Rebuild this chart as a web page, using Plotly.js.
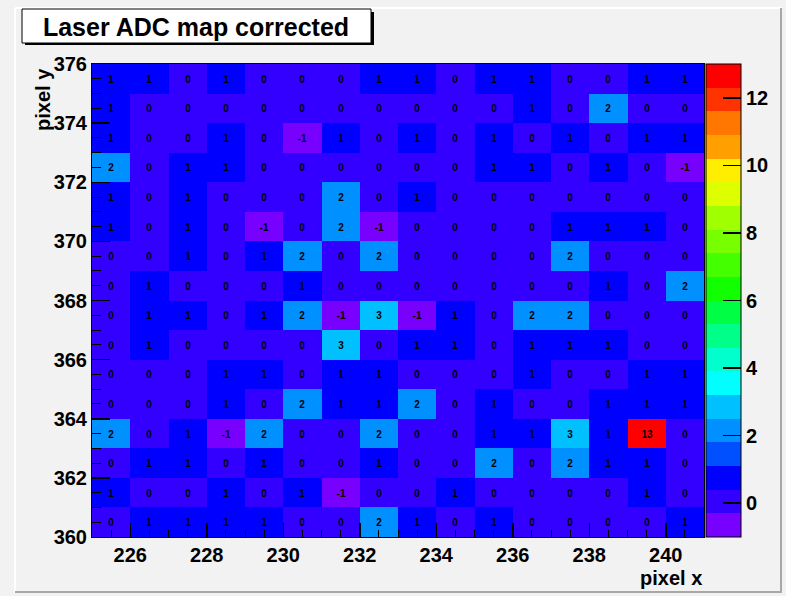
<!DOCTYPE html>
<html>
<head>
<meta charset="utf-8">
<script src="https://cdn.plot.ly/plotly-3.0.1.min.js"></script>
<style>
  html, body { margin: 0; padding: 0; background: #f2f2f2; }
  #chart { width: 786px; height: 596px; }
</style>
</head>
<body>
<div id="chart"></div>
<script>
// Bin edges of the pixel grid
const pixelXEdges = [225, 226, 227, 228, 229, 230, 231, 232, 233, 234, 235, 236, 237, 238, 239, 240, 241];
// Row labels (lower edge of each pixel row), listed from the top row down
const pixelYRows = [375, 374, 373, 372, 371, 370, 369, 368, 367, 366, 365, 364, 363, 362, 361, 360];

// Corrected laser ADC values, one row per pixelYRows entry, columns follow pixelXEdges
const adcRows = [
  [1, 1, 0, 1, 0, 0, 0, 1, 1, 0, 1, 1, 0, 0, 1, 1],
  [1, 0, 0, 0, 0, 0, 0, 0, 0, 0, 0, 1, 0, 2, 0, 0],
  [1, 0, 0, 1, 0, -1, 1, 0, 1, 0, 1, 0, 1, 0, 1, 1],
  [2, 0, 1, 1, 0, 0, 0, 0, 0, 0, 1, 1, 0, 1, 0, -1],
  [1, 0, 1, 0, 0, 0, 2, 0, 1, 0, 0, 0, 0, 0, 0, 0],
  [1, 0, 1, 0, -1, 0, 2, -1, 0, 0, 0, 0, 1, 1, 1, 0],
  [0, 0, 1, 0, 1, 2, 0, 2, 0, 0, 0, 0, 2, 0, 0, 0],
  [0, 1, 0, 0, 0, 1, 0, 0, 0, 0, 0, 0, 0, 1, 0, 2],
  [0, 1, 1, 0, 1, 2, -1, 3, -1, 1, 0, 2, 2, 0, 0, 0],
  [0, 1, 0, 0, 0, 0, 3, 0, 1, 1, 0, 1, 1, 1, 0, 0],
  [0, 0, 0, 1, 1, 0, 1, 1, 0, 0, 0, 1, 0, 0, 1, 1],
  [0, 0, 0, 1, 0, 2, 1, 1, 2, 0, 1, 0, 0, 1, 1, 1],
  [2, 0, 1, -1, 2, 0, 0, 2, 0, 0, 1, 1, 3, 1, 13, 0],
  [0, 1, 1, 0, 1, 0, 0, 1, 0, 0, 2, 0, 2, 1, 1, 0],
  [1, 0, 0, 1, 0, 1, -1, 0, 0, 1, 0, 0, 0, 0, 1, 0],
  [0, 1, 1, 1, 1, 0, 0, 2, 1, 0, 1, 0, 0, 0, 0, 1]
];

// Colour-bar ticks
const zTicks = [0, 2, 4, 6, 8, 10, 12];
const zMin = -1, zMax = 13;

// 20-level rainbow palette, lowest contour first
const palette = [
  '#7700ff', '#3300ff', '#0000ff', '#0050ff', '#0090ff',
  '#00c0ff', '#00ffff', '#00ffcc', '#00ff88', '#00ff44',
  '#11ff00', '#44ff00', '#77ff00', '#a0ff00', '#ddff00',
  '#ffee00', '#ffa000', '#ff7700', '#ff3300', '#ff0000'
];

// Stepped colourscale so each contour level is a flat band
const stepScale = [];
palette.forEach((c, i) => {
  stepScale.push([i / palette.length, c]);
  stepScale.push([(i + 1) / palette.length, c]);
});

// Heatmap wants rows from the lowest y upward
const zBottomUp = adcRows.slice().reverse();
const yEdges = pixelYRows.slice().reverse().concat([pixelYRows[0] + 1]);
// Cell labels with a plain hyphen for negatives
const cellText = zBottomUp.map(row => row.map(v => String(v)));

const boldFont = (size) => ({ family: 'Liberation Sans, Arial, sans-serif', size: size, color: '#000', weight: 'bold' });

// Plot area in pixels: left 92, right 704, top 64, bottom 537
const W = 786, H = 596, L = 92, R = 704, T = 64, B = 537;
const px = (x) => (x - L) / (R - L);
const py = (y) => (B - y) / (B - T);

const trace = {
  type: 'heatmap',
  x: pixelXEdges,
  y: yEdges,
  z: zBottomUp,
  text: cellText,
  zmin: zMin,
  zmax: zMax,
  colorscale: stepScale,
  texttemplate: '%{text}',
  textfont: { family: 'Liberation Sans, Arial, sans-serif', size: 10, color: '#000', weight: 'bold' },
  xgap: 0, ygap: 0,
  hoverinfo: 'x+y+z',
  colorbar: {
    thickness: 35,
    thicknessmode: 'pixels',
    len: B - T,
    lenmode: 'pixels',
    x: px(706),
    xanchor: 'left',
    y: 1,
    yanchor: 'top',
    xpad: 0,
    ypad: 0,
    outlinewidth: 1,
    outlinecolor: '#000',
    tickmode: 'array',
    tickvals: zTicks,
    ticktext: zTicks.map(String),
    ticks: 'inside',
    ticklen: 18,
    tickwidth: 1.5,
    tickcolor: '#000',
    tickfont: boldFont(20)
  }
};

const layout = {
  width: W,
  height: H,
  paper_bgcolor: '#f2f2f2',
  plot_bgcolor: '#f2f2f2',
  margin: { l: L, r: W - R, t: T, b: H - B, pad: 0, autoexpand: false },
  title: {
    text: 'Laser ADC map corrected',
    font: boldFont(25),
    xref: 'container',
    yref: 'container',
    x: 196 / W,
    xanchor: 'center',
    y: 1 - 27 / H,
    yanchor: 'middle'
  },
  xaxis: {
    range: [225, 241],
    tick0: 0,
    dtick: 2,
    ticks: 'inside',
    ticklen: 14,
    tickwidth: 1.5,
    tickcolor: '#000',
    tickfont: boldFont(20),
    minor: { dtick: 0.5, ticks: 'inside', ticklen: 7, tickwidth: 1, tickcolor: '#000' },
    showgrid: false,
    zeroline: false,
    showline: true,
    linecolor: '#000',
    linewidth: 1,
    mirror: true
  },
  yaxis: {
    range: [360, 376],
    tick0: 0,
    dtick: 2,
    ticks: 'inside',
    ticklen: 18,
    tickwidth: 1.5,
    tickcolor: '#000',
    tickfont: boldFont(20),
    minor: { dtick: 0.5, ticks: 'inside', ticklen: 9, tickwidth: 1, tickcolor: '#000' },
    showgrid: false,
    zeroline: false,
    showline: true,
    linecolor: '#000',
    linewidth: 1,
    mirror: true
  },
  annotations: [
    {
      text: 'pixel x',
      xref: 'paper', yref: 'paper',
      x: px(704), xanchor: 'right',
      y: py(578), yanchor: 'middle',
      showarrow: false,
      font: boldFont(20)
    },
    {
      text: 'pixel y',
      xref: 'paper', yref: 'paper',
      x: px(43), xanchor: 'center',
      y: py(100), yanchor: 'middle',
      textangle: -90,
      showarrow: false,
      font: boldFont(20)
    }
  ],
  shapes: [
    // canvas bevel: light top/left, dark bottom/right
    { type: 'line', xref: 'paper', yref: 'paper', x0: px(15), x1: px(15), y0: py(8), y1: py(593), line: { color: '#ffffff', width: 2 } },
    { type: 'line', xref: 'paper', yref: 'paper', x0: px(15), x1: px(782), y0: py(8), y1: py(8), line: { color: '#ffffff', width: 2 } },
    { type: 'line', xref: 'paper', yref: 'paper', x0: px(781), x1: px(781), y0: py(8), y1: py(593), line: { color: '#a8a8a8', width: 2 } },
    { type: 'line', xref: 'paper', yref: 'paper', x0: px(15), x1: px(782), y0: py(592), y1: py(592), line: { color: '#a8a8a8', width: 2 } },
    // title box shadow and box
    { type: 'rect', xref: 'paper', yref: 'paper', x0: px(25), x1: px(374), y0: py(12), y1: py(45), fillcolor: '#000', line: { width: 0 }, layer: 'above' },
    { type: 'rect', xref: 'paper', yref: 'paper', x0: px(22), x1: px(371), y0: py(9), y1: py(43), fillcolor: '#ffffff', line: { color: '#000', width: 1 }, layer: 'above' }
  ]
};

Plotly.newPlot('chart', [trace], layout, { displayModeBar: false, staticPlot: true });
</script>
</body>
</html>
